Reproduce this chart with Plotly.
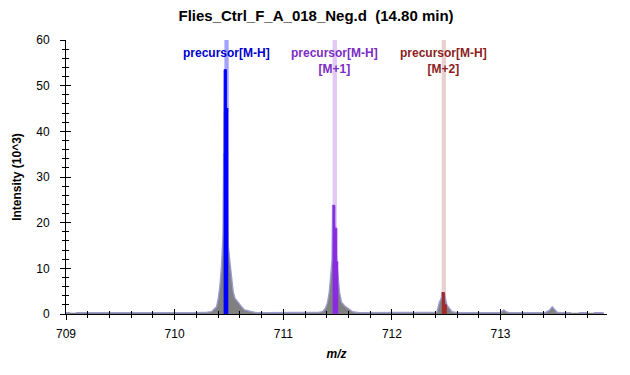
import plotly.graph_objects as go

# ---------------- data ----------------
title_text = "Flies_Ctrl_F_A_018_Neg.d\u00a0 (14.80 min)"

# full profile spectrum (m/z, intensity in 10^3); None = gap in the trace
profile_mz = [709.00, 709.04, 709.06, 709.09, 709.20, 709.30, 709.40, 709.50, 709.60,
              709.70, 709.80, 709.90, 710.00, 710.10, 710.20, 710.30, 710.34, 710.356,
              710.386, 710.402, 710.417, 710.432, 710.445, 710.451, 710.457, 710.476,
              710.494, 710.509, 710.524, 710.540, 710.555, 710.570, 710.590, 710.616,
              710.644, 710.708, 710.75, 710.85, 710.95, 711.05, 711.15, 711.25, 711.33,
              711.362, 711.389, 711.408, 711.423, 711.435, 711.449, 711.454, 711.475,
              711.493, 711.506, 711.518, 711.536, 711.564, 711.592, 711.638, 711.70,
              711.80, 711.90, 712.00, 712.10, 712.20, 712.30, 712.38, 712.414, 712.435,
              712.454, 712.46, 712.481, 712.506, 712.518, 712.552, 712.60, 712.70,
              712.80, 712.90, 713.00, 713.03, 713.05, 713.08, 713.20, 713.30, 713.41,
              713.45, 713.476, 713.49, 713.52, 713.55, 713.65, 713.70, 713.72, 713.80,
              713.84, 713.86, 713.95]
profile_int = [0.3, 0.3, None, 0.3, 0.3, 0.2, 0.3, 0.3, 0.2,
               0.3, 0.3, 0.2, 0.3, 0.3, 0.3, 0.4, 0.5, 0.9,
               1.6, 3.5, 6.3, 10.7, 17.3, 35.0, 53.5, 45.0,
               15.0, 11.4, 7.9, 4.8, 3.5, 3.0, 2.2, 1.6,
               0.9, 0.5, 0.3, 0.3, 0.3, 0.3, 0.3, 0.3, 0.4,
               0.5, 1.3, 2.6, 4.8, 7.9, 12.0, 23.8, 18.8,
               11.4, 7.9, 4.8, 2.6, 1.8, 1.3, 0.5, 0.3,
               0.3, 0.3, 0.3, 0.3, 0.3, 0.3, 0.3, 0.4, 2.4,
               3.5, 4.7, 4.7, 2.0, 1.6, 0.5, 0.3, 0.3,
               0.3, 0.3, 0.3, 0.9, 0.5, 0.3, 0.3, 0.3, 0.3,
               0.8, 1.6, 1.2, 0.4, 0.3, 0.3, None, 0.3, 0.3,
               None, 0.3, 0.3]

# precursor isotopes
precursor_labels = ["precursor[M-H]", "precursor[M-H]<br>[M+1]", "precursor[M-H]<br>[M+2]"]
precursor_mz = [710.478, 711.474, 712.478]
precursor_colors = ["#0000FF", "#8A2BE2", "#A52A2A"]
label_colors = ["#0000CC", "#7B2CC4", "#8B1E1E"]
band_colors = ["rgba(0,0,255,0.36)", "rgba(138,43,226,0.26)", "rgba(165,42,42,0.22)"]

# highlighted profile points inside each precursor window
mh_mz = [710.451, 710.457, 710.476, 710.494]
mh_int = [35.0, 53.5, 45.0, 45.0]
m1_mz = [711.454, 711.475, 711.493, 711.506]
m1_int = [23.8, 18.8, 11.4, 11.4]
m2_mz = [712.460, 712.483, 712.506]
m2_int = [4.7, 2.0, 2.0]

x_range = [709.0, 713.98]
y_range = [0, 60]
x_ticks = [709, 710, 711, 712, 713]
y_ticks = [0, 10, 20, 30, 40, 50, 60]

# ---------------- figure ----------------
fig = go.Figure()

band_half = 0.02
for mz, col in zip(precursor_mz, band_colors):
    fig.add_shape(type="rect", xref="x", yref="y", x0=mz - band_half, x1=mz + band_half,
                  y0=0, y1=y_range[1], fillcolor=col, line_width=0, layer="below")

fig.add_trace(go.Scatter(x=profile_mz, y=profile_int, mode="lines", fill="tozeroy",
                         fillcolor="#808080", line=dict(color="#9C9CD4", width=1.3),
                         connectgaps=False, hoverinfo="skip", showlegend=False))

for xs, ys, col in [(mh_mz, mh_int, precursor_colors[0]),
                    (m1_mz, m1_int, precursor_colors[1]),
                    (m2_mz, m2_int, precursor_colors[2])]:
    fig.add_trace(go.Scatter(x=xs, y=ys, mode="lines", fill="tozeroy", fillcolor=col,
                             line=dict(color=col, width=1, shape="hv"),
                             hoverinfo="skip", showlegend=False))

for txt, mz, col in zip(precursor_labels, precursor_mz, label_colors):
    fig.add_annotation(x=mz, y=y_range[1], xref="x", yref="y", text=f"<b>{txt}</b>",
                       showarrow=False, yanchor="top", yshift=-4,
                       font=dict(family="Arial", size=12, color=col))

axis_font = dict(family="Arial", size=12, color="#000000")
fig.update_layout(
    width=630, height=375,
    margin=dict(l=58, r=31, t=32, b=69, autoexpand=False),
    paper_bgcolor="white", plot_bgcolor="white",
    font=dict(family="Arial", size=12, color="#000000"),
    title=dict(text=f"<b>{title_text}</b>", x=0.489, xanchor="center", y=0.979,
               yanchor="middle", font=dict(family="Arial", size=15, color="#000000")),
    xaxis=dict(range=x_range, tickvals=x_ticks, ticks="outside", ticklen=5, tickwidth=1,
               tickcolor="black", showline=True, linecolor="black", linewidth=1,
               showgrid=False, zeroline=False, tickfont=axis_font, ticklabelstandoff=4,
               automargin=False,
               minor=dict(dtick=0.2, tick0=709, ticks="outside", ticklen=3, tickcolor="black"),
               title=dict(text="<b><i>m/z</i></b>", font=dict(family="Arial", size=12), standoff=9)),
    yaxis=dict(range=y_range, tickvals=y_ticks, ticks="outside", ticklen=5, tickwidth=1,
               tickcolor="black", showline=True, linecolor="black", linewidth=1,
               showgrid=False, zeroline=False, tickfont=axis_font, ticklabelstandoff=8,
               automargin=False,
               minor=dict(dtick=2, tick0=0, ticks="outside", ticklen=3, tickcolor="black"),
               title=dict(text="<b>Intensity (10^3)</b>", font=dict(family="Arial", size=12), standoff=12)),
    xaxis2=dict(range=x_range, overlaying="x", anchor="y", side="bottom", tickvals=x_ticks,
                ticks="inside", ticklen=5, tickcolor="black", showticklabels=False,
                showgrid=False, zeroline=False, showline=False, automargin=False,
                minor=dict(dtick=0.2, tick0=709, ticks="inside", ticklen=3, tickcolor="black")),
    yaxis2=dict(range=y_range, overlaying="y", anchor="x", side="left", tickvals=y_ticks,
                ticks="inside", ticklen=5, tickcolor="black", showticklabels=False,
                showgrid=False, zeroline=False, showline=False, automargin=False,
                minor=dict(dtick=2, tick0=0, ticks="inside", ticklen=3, tickcolor="black")),
)
# dummy trace to activate the overlay axes
fig.add_trace(go.Scatter(x=[None], y=[None], xaxis="x2", yaxis="y2", showlegend=False,
                         hoverinfo="skip"))

fig.write_html("out.html")
